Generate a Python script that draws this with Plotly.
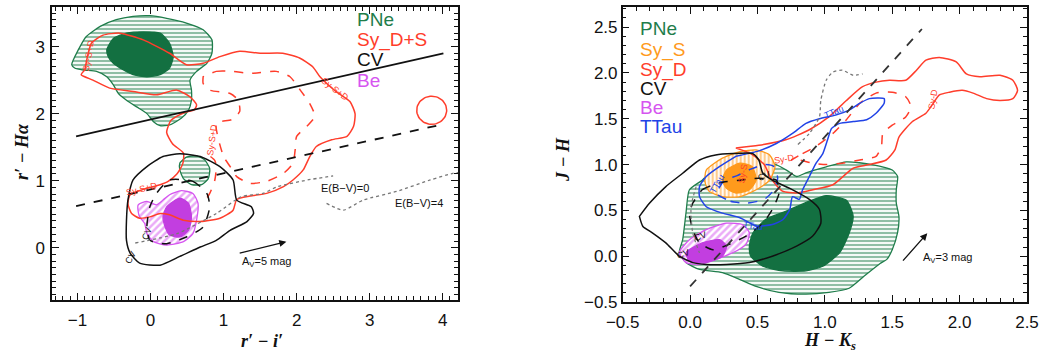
import math
import plotly.graph_objects as go

# ---------------- left panel: r' - Halpha vs r' - i' ----------------
L_PNE_OUT_X = [-1.08, -0.99, -0.88, -0.69, -0.47, -0.24, -0.01, 0.22, 0.49, 0.72, 0.84, 0.84, 0.77, 0.63, 0.54, 0.56, 0.56, 0.52, 0.42, 0.26, 0.13, 0.04, -0.05, -0.19, -0.33, -0.44, -0.51, -0.60, -0.74, -0.92, -1.04]
L_PNE_OUT_Y = [2.73, 2.95, 3.15, 3.30, 3.40, 3.45, 3.46, 3.42, 3.35, 3.25, 3.10, 2.90, 2.75, 2.63, 2.50, 2.35, 2.20, 2.05, 1.93, 1.83, 1.82, 1.88, 2.00, 2.10, 2.20, 2.30, 2.43, 2.55, 2.63, 2.65, 2.68]
L_PNE_IN_X = [-0.60, -0.51, -0.33, -0.10, 0.13, 0.26, 0.31, 0.26, 0.13, -0.05, -0.24, -0.37, -0.51, -0.58]
L_PNE_IN_Y = [2.95, 3.12, 3.20, 3.22, 3.20, 3.05, 2.85, 2.68, 2.58, 2.55, 2.58, 2.65, 2.75, 2.85]
L_PNE_SMALL_X = [0.40, 0.49, 0.63, 0.74, 0.81, 0.79, 0.70, 0.56, 0.45, 0.40]
L_PNE_SMALL_Y = [1.26, 1.35, 1.37, 1.31, 1.18, 1.03, 0.94, 0.94, 1.03, 1.16]

L_SY_OUT_X = [-0.90, -0.81, -0.65, -0.42, -0.10, 0.26, 0.49, 0.72, 0.95, 1.22, 1.50, 1.81, 2.04, 2.22, 2.32, 2.55, 2.73, 2.80, 2.78, 2.69, 2.48, 2.27, 2.18, 2.09, 1.95, 1.82, 1.59, 1.36, 1.18, 1.13, 0.95, 0.68, 0.45, 0.26, 0.13, -0.01, -0.15, -0.26, -0.31, -0.28, -0.10, 0.13, 0.24, 0.36, 0.44, 0.45, 0.30, 0.22, 0.28, 0.45, 0.60, 0.63, 0.54, 0.36, 0.08, -0.24, -0.56, -0.79, -0.95, -0.90]
L_SY_OUT_Y = [2.65, 3.05, 3.17, 3.20, 3.10, 2.90, 2.73, 2.75, 2.85, 2.93, 2.90, 2.90, 2.83, 2.70, 2.55, 2.32, 2.18, 2.00, 1.81, 1.66, 1.61, 1.51, 1.36, 1.16, 1.01, 0.91, 0.81, 0.77, 0.72, 0.56, 0.44, 0.39, 0.41, 0.49, 0.51, 0.46, 0.44, 0.51, 0.66, 0.79, 0.87, 0.94, 0.99, 1.10, 1.25, 1.41, 1.55, 1.72, 1.90, 2.01, 2.06, 2.13, 2.25, 2.35, 2.28, 2.33, 2.38, 2.50, 2.58, 2.65]
L_SY_IN_X = [0.72, 0.90, 1.13, 1.36, 1.72, 1.91, 2.05, 2.18, 2.25, 2.14, 2.00, 1.98, 1.95, 1.82, 1.59, 1.36, 1.18, 1.09, 1.00, 0.90, 1.11, 1.22, 1.20, 1.09, 0.81, 0.72, 0.72]
L_SY_IN_Y = [2.55, 2.63, 2.63, 2.60, 2.63, 2.55, 2.35, 2.15, 1.96, 1.81, 1.66, 1.46, 1.26, 1.11, 0.99, 0.96, 1.06, 1.21, 1.36, 1.86, 1.91, 2.03, 2.20, 2.30, 2.35, 2.45, 2.55]
L_SY_TAIL_X = [0.82, 0.88, 0.90, 0.88, 0.81, 0.72]
L_SY_TAIL_Y = [1.36, 1.30, 1.21, 1.01, 0.81, 0.66]
L_SY_RING_CX, L_SY_RING_CY, L_SY_RING_RX, L_SY_RING_RY = 3.85, 2.05, 0.205, 0.21

L_CV_OUT_X = [0.40, 0.68, 0.95, 1.13, 1.18, 1.38, 1.41, 1.32, 1.09, 0.90, 0.68, 0.40, 0.13, -0.15, -0.28, -0.33, -0.33, -0.31, -0.24, -0.05, 0.17]
L_CV_OUT_Y = [1.40, 1.36, 1.21, 1.01, 0.71, 0.61, 0.51, 0.39, 0.26, 0.11, 0.01, -0.13, -0.26, -0.23, -0.08, 0.11, 0.41, 0.71, 1.01, 1.21, 1.36]
L_CV_IN_X = [0.26, 0.58, 0.77, 0.81, 0.72, 0.49, 0.22, -0.01, -0.05, -0.01, 0.08]
L_CV_IN_Y = [1.01, 0.99, 0.81, 0.61, 0.31, 0.16, 0.06, 0.11, 0.31, 0.61, 0.81]

L_BE_OUT_X = [-0.17, -0.05, 0.08, 0.17, 0.26, 0.42, 0.58, 0.65, 0.63, 0.58, 0.45, 0.22, 0.04, -0.05, -0.08, -0.15, -0.17]
L_BE_OUT_Y = [0.64, 0.69, 0.64, 0.71, 0.79, 0.85, 0.81, 0.66, 0.41, 0.21, 0.09, 0.04, 0.09, 0.21, 0.36, 0.46, 0.54]
L_BE_IN_X = [0.22, 0.40, 0.52, 0.56, 0.52, 0.40, 0.26, 0.20, 0.17]
L_BE_IN_Y = [0.61, 0.74, 0.66, 0.46, 0.26, 0.16, 0.19, 0.31, 0.46]

L_SOLID_LINE_X = [-1.02, 4.01]
L_SOLID_LINE_Y = [1.66, 2.90]
L_DASH_LINE_X = [-1.02, 3.96]
L_DASH_LINE_Y = [0.62, 1.83]
L_EBV0_X = [-0.21, 0.36, 0.90, 1.24, 1.54, 1.74, 2.15, 2.50]
L_EBV0_Y = [0.07, 0.21, 0.51, 0.76, 0.81, 0.91, 1.01, 1.07]
L_EBV4_X = [2.41, 2.64, 2.91, 3.37, 3.83, 4.14, 4.24]
L_EBV4_Y = [0.66, 0.56, 0.71, 0.84, 1.01, 1.11, 1.12]
L_ARROW = [1.20, -0.085, 1.86, 0.09]
L_LEGEND = ["PNe", "Sy_D+S", "CV", "Be"]
L_LEGEND_Y = [3.40, 3.10, 2.80, 2.50]

# ---------------- right panel: J - H vs H - Ks ----------------
R_PNE_OUT_X = [-0.005, -0.03, -0.055, -0.08, -0.03, 0.07, 0.24, 0.37, 0.49, 0.66, 0.86, 1.03, 1.18, 1.29, 1.41, 1.46, 1.50, 1.54, 1.55, 1.53, 1.53, 1.54, 1.50, 1.35, 1.16, 1.01, 0.86, 0.79, 0.715, 0.61, 0.42, 0.29, 0.165, 0.09]
R_PNE_OUT_Y = [0.725, 0.475, 0.18, 0.04, -0.07, -0.145, -0.18, -0.255, -0.33, -0.395, -0.415, -0.395, -0.35, -0.22, -0.08, -0.035, 0.07, 0.26, 0.43, 0.58, 0.725, 0.87, 0.94, 1.00, 1.03, 0.975, 0.91, 0.87, 0.94, 1.02, 1.13, 1.07, 0.94, 0.83]
R_PNE_IN_X = [0.44, 0.465, 0.56, 0.71, 0.885, 1.01, 1.16, 1.21, 1.18, 1.11, 0.985, 0.86, 0.69, 0.54, 0.45]
R_PNE_IN_Y = [0.11, 0.25, 0.40, 0.49, 0.60, 0.66, 0.61, 0.435, 0.25, 0.04, -0.11, -0.16, -0.16, -0.11, 0.0]

R_SYS_OUT_X = [0.12, 0.24, 0.37, 0.49, 0.59, 0.63, 0.59, 0.49, 0.37, 0.24, 0.14, 0.11]
R_SYS_OUT_Y = [0.94, 1.07, 1.14, 1.16, 1.105, 0.98, 0.83, 0.725, 0.65, 0.65, 0.71, 0.815]
R_SYS_IN_X = [0.27, 0.37, 0.46, 0.49, 0.44, 0.34, 0.27, 0.24]
R_SYS_IN_Y = [0.94, 1.015, 0.98, 0.83, 0.725, 0.69, 0.74, 0.83]

R_BE_OUT_X = [-0.08, -0.005, 0.12, 0.27, 0.39, 0.44, 0.415, 0.32, 0.19, 0.07, -0.03]
R_BE_OUT_Y = [0.04, 0.18, 0.29, 0.36, 0.345, 0.255, 0.13, 0.04, -0.035, -0.09, -0.07]
R_BE_IN_X = [-0.03, 0.09, 0.22, 0.27, 0.24, 0.12, -0.005]
R_BE_IN_Y = [0.04, 0.145, 0.18, 0.11, 0.0, -0.07, -0.055]

R_SYD_OUT_X = [0.34, 0.51, 0.71, 0.885, 1.03, 1.16, 1.28, 1.38, 1.48, 1.60, 1.68, 1.75, 1.85, 1.975, 2.05, 2.15, 2.30, 2.395, 2.43, 2.395, 2.30, 2.20, 2.10, 2.02, 1.925, 1.85, 1.80, 1.75, 1.65, 1.55, 1.52, 1.455, 1.33, 1.21, 1.06, 0.91, 0.79, 0.685, 0.60, 0.55, 0.45, 0.34]
R_SYD_OUT_Y = [1.18, 1.21, 1.27, 1.38, 1.52, 1.70, 1.85, 1.90, 1.92, 1.92, 2.03, 2.14, 2.17, 2.12, 1.99, 1.96, 1.975, 1.92, 1.81, 1.72, 1.70, 1.72, 1.78, 1.81, 1.79, 1.76, 1.66, 1.56, 1.47, 1.30, 1.16, 1.05, 1.00, 0.96, 0.78, 0.725, 0.69, 0.71, 0.85, 1.00, 1.12, 1.18]
R_SYD_IN_X = [0.75, 0.835, 0.935, 1.06, 1.16, 1.26, 1.38, 1.50, 1.60, 1.64, 1.60, 1.50, 1.43, 1.42, 1.38, 1.26, 1.13, 1.01, 0.91, 0.81, 0.75]
R_SYD_IN_Y = [1.05, 1.12, 1.20, 1.34, 1.49, 1.67, 1.78, 1.79, 1.74, 1.63, 1.52, 1.43, 1.34, 1.20, 1.09, 1.05, 1.015, 1.00, 1.015, 1.05, 1.05]

R_TT_OUT_X = [0.34, 0.51, 0.64, 0.76, 0.86, 0.96, 1.08, 1.18, 1.26, 1.33, 1.44, 1.44, 1.38, 1.31, 1.21, 1.11, 1.05, 1.02, 0.985, 0.935, 0.885, 0.835, 0.81, 0.76, 0.74, 0.69, 0.61, 0.49, 0.37, 0.24, 0.12, 0.07, 0.07, 0.12, 0.22, 0.34]
R_TT_OUT_Y = [1.09, 1.15, 1.23, 1.34, 1.45, 1.50, 1.54, 1.595, 1.67, 1.72, 1.72, 1.67, 1.56, 1.49, 1.47, 1.45, 1.395, 1.27, 1.12, 1.015, 0.87, 0.725, 0.62, 0.65, 0.51, 0.40, 0.345, 0.33, 0.42, 0.47, 0.54, 0.65, 0.76, 0.87, 0.98, 1.09]
R_TT_IN_X = [0.19, 0.30, 0.42, 0.55, 0.62, 0.65, 0.62, 0.55, 0.45, 0.35, 0.25, 0.19]
R_TT_IN_Y = [0.68, 0.60, 0.58, 0.62, 0.72, 0.85, 0.98, 1.00, 0.95, 0.88, 0.82, 0.68]

R_CV_OUT_X = [-0.376, -0.30, -0.18, -0.055, 0.07, 0.19, 0.32, 0.465, 0.51, 0.54, 0.61, 0.74, 0.885, 0.96, 0.97, 0.91, 0.79, 0.61, 0.44, 0.27, 0.12, 0.02, -0.08, -0.18, -0.28, -0.35, -0.376]
R_CV_OUT_Y = [0.435, 0.58, 0.76, 0.905, 1.05, 1.105, 1.12, 1.12, 1.05, 0.905, 0.83, 0.74, 0.62, 0.51, 0.36, 0.22, 0.11, 0.0, -0.07, -0.09, -0.09, -0.07, 0.0, 0.145, 0.255, 0.325, 0.435]
R_CV_IN_X = [0.02, 0.09, 0.22, 0.37, 0.51, 0.64, 0.66, 0.61, 0.54, 0.415, 0.29, 0.17, 0.07, 0.02, -0.005, 0.02]
R_CV_IN_Y = [0.58, 0.725, 0.80, 0.83, 0.85, 0.83, 0.69, 0.51, 0.36, 0.22, 0.13, 0.07, 0.145, 0.29, 0.47, 0.58]

R_DASH_LINE_X = [0.0, 1.72]
R_DASH_LINE_Y = [-0.33, 2.48]
R_DOT_TOP_X = [0.80, 0.885, 0.96, 0.97, 1.01, 1.06, 1.13, 1.21, 1.28]
R_DOT_TOP_Y = [1.22, 1.34, 1.52, 1.70, 1.92, 2.01, 2.03, 1.975, 1.99]
R_DOT_LOW_X = [0.045, 0.007, 0.02, 0.07]
R_DOT_LOW_Y = [0.76, 0.54, 0.25, 0.036]
R_ARROW = [1.57, -0.065, 1.76, 0.25]
R_LEGEND = ["PNe", "Sy_S", "Sy_D", "CV", "Be", "TTau"]
R_LEGEND_Y = [2.48, 2.255, 2.03, 1.83, 1.62, 1.42]

# ---------------- colours ----------------
GREEN = "#1f7d4b"
GREEN_SOLID = "#137041"
RED = "#ff3d2b"
ORANGE = "#ff9a1c"
MAGENTA = "#d655f0"
MAGENTA_SOLID = "#c23ee0"
BLUE = "#2143e6"
BLACK = "#111111"

fig = go.Figure()


def closed(xs, ys):
    return list(xs) + [xs[0]], list(ys) + [ys[0]]


def region(xs, ys, axes, color, shape=None, solid=False, size=4, solidity=0.5):
    x, y = closed(xs, ys)
    kw = dict(x=x, y=y, mode="lines", fill="toself", hoverinfo="skip",
              line=dict(color=color, width=1.3, shape="spline", smoothing=0.6), showlegend=False,
              xaxis=axes[0], yaxis=axes[1])
    if solid:
        kw["fillcolor"] = color
    else:
        kw["fillcolor"] = "white"
        kw["fillpattern"] = dict(shape=shape, fgcolor=color, bgcolor="white",
                                 size=size, solidity=solidity)
    fig.add_trace(go.Scatter(**kw))


def curve(xs, ys, axes, color, dash="solid", width=1.5, close=False):
    x, y = (closed(xs, ys) if close else (list(xs), list(ys)))
    fig.add_trace(go.Scatter(x=x, y=y, mode="lines", hoverinfo="skip",
                             line=dict(color=color, width=width, dash=dash, shape="spline", smoothing=0.6),
                             showlegend=False, xaxis=axes[0], yaxis=axes[1]))


def ring(cx, cy, rx, ry, axes, color):
    n = 60
    xs = [cx + rx * math.cos(2 * math.pi * i / n) for i in range(n + 1)]
    ys = [cy + ry * math.sin(2 * math.pi * i / n) for i in range(n + 1)]
    fig.add_trace(go.Scatter(x=xs, y=ys, mode="lines", hoverinfo="skip",
                             line=dict(color=color, width=1.5), showlegend=False,
                             xaxis=axes[0], yaxis=axes[1]))


LA = ("x", "y")
RA = ("x2", "y2")

# left panel filled regions
region(L_PNE_OUT_X, L_PNE_OUT_Y, LA, GREEN, shape="-", size=4, solidity=0.55)
region(L_PNE_IN_X, L_PNE_IN_Y, LA, GREEN_SOLID, solid=True)
region(L_PNE_SMALL_X, L_PNE_SMALL_Y, LA, GREEN, shape="-", size=4, solidity=0.55)
region(L_BE_OUT_X, L_BE_OUT_Y, LA, MAGENTA, shape="/", size=5, solidity=0.5)
region(L_BE_IN_X, L_BE_IN_Y, LA, MAGENTA_SOLID, solid=True)

# left panel lines
curve(L_SY_OUT_X, L_SY_OUT_Y, LA, RED, close=True)
curve(L_SY_IN_X, L_SY_IN_Y, LA, RED, dash="dash", close=True)
curve(L_SY_TAIL_X, L_SY_TAIL_Y, LA, RED, dash="dash")
ring(L_SY_RING_CX, L_SY_RING_CY, L_SY_RING_RX, L_SY_RING_RY, LA, RED)
curve(L_CV_OUT_X, L_CV_OUT_Y, LA, BLACK, close=True)
curve(L_CV_IN_X, L_CV_IN_Y, LA, BLACK, dash="dash", close=True)
curve(L_SOLID_LINE_X, L_SOLID_LINE_Y, LA, BLACK, width=1.8)
curve(L_DASH_LINE_X, L_DASH_LINE_Y, LA, BLACK, dash="dash", width=1.8)
curve(L_EBV0_X, L_EBV0_Y, LA, "#777777", dash="dot", width=1.3)
curve(L_EBV4_X, L_EBV4_Y, LA, "#777777", dash="dot", width=1.3)

# right panel filled regions
region(R_PNE_OUT_X, R_PNE_OUT_Y, RA, GREEN, shape="-", size=4, solidity=0.55)
region(R_PNE_IN_X, R_PNE_IN_Y, RA, GREEN_SOLID, solid=True)
region(R_SYS_OUT_X, R_SYS_OUT_Y, RA, ORANGE, shape="|", size=4, solidity=0.55)
region(R_SYS_IN_X, R_SYS_IN_Y, RA, ORANGE, solid=True)
region(R_BE_OUT_X, R_BE_OUT_Y, RA, MAGENTA, shape="/", size=5, solidity=0.5)
region(R_BE_IN_X, R_BE_IN_Y, RA, MAGENTA_SOLID, solid=True)

# right panel lines
curve(R_SYD_OUT_X, R_SYD_OUT_Y, RA, RED, close=True)
curve(R_SYD_IN_X, R_SYD_IN_Y, RA, RED, dash="dash", close=True)
curve(R_TT_OUT_X, R_TT_OUT_Y, RA, BLUE, close=True)
curve(R_TT_IN_X, R_TT_IN_Y, RA, BLUE, dash="dash", close=True)
curve(R_CV_OUT_X, R_CV_OUT_Y, RA, BLACK, close=True)
curve(R_CV_IN_X, R_CV_IN_Y, RA, BLACK, dash="dash", close=True)
curve(R_DASH_LINE_X, R_DASH_LINE_Y, RA, "#333333", dash="dash", width=1.8)
curve(R_DOT_TOP_X, R_DOT_TOP_Y, RA, "#777777", dash="dot", width=1.3)
curve(R_DOT_LOW_X, R_DOT_LOW_Y, RA, "#777777", dash="dot", width=1.2)

ann = []
LEG_FONT = "Liberation Sans, Arial, sans-serif"
for txt, yy, col in zip(L_LEGEND, L_LEGEND_Y, [GREEN, RED, BLACK, MAGENTA]):
    ann.append(dict(x=2.80, y=yy, xref="x", yref="y", text=txt, showarrow=False,
                    xanchor="left", yanchor="middle", font=dict(size=19, color=col, family=LEG_FONT)))
for txt, yy, col in zip(R_LEGEND, R_LEGEND_Y, [GREEN, ORANGE, RED, BLACK, MAGENTA, BLUE]):
    ann.append(dict(x=-0.39, y=yy, xref="x2", yref="y2", text=txt, showarrow=False,
                    xanchor="left", yanchor="middle", font=dict(size=19, color=col, family=LEG_FONT)))

# small contour labels
SMALL = "Liberation Sans, Arial, sans-serif"


def lab(x, y, text, color, axes, angle=0, size=9):
    ann.append(dict(x=x, y=y, xref=axes[0], yref=axes[1], text=text, showarrow=False,
                    textangle=angle, xanchor="center", yanchor="middle",
                    font=dict(size=size, color=color, family=SMALL)))


lab(-0.85, 2.86, "Sy-S+D", RED, LA, angle=-80)
lab(2.52, 2.36, "Sy-S+D", RED, LA, angle=38)
lab(0.84, 1.61, "Sy-S+D", RED, LA, angle=-82)
lab(-0.12, 0.87, "Sy-S+D", RED, LA, angle=-14)
lab(-0.27, -0.14, "CV", BLACK, LA, angle=-60)
lab(-0.05, 0.22, "CV", BLACK, LA, angle=-70)
lab(2.66, 0.885, "E(B−V)=0", BLACK, LA, size=11)
lab(3.68, 0.66, "E(B−V)=4", BLACK, LA, size=11)

lab(1.80, 1.72, "Sy-D", RED, RA, angle=-80)
lab(0.70, 1.06, "Sy-D", RED, RA, angle=-10)
lab(0.39, 0.90, "Sy-S", RED, RA, angle=-80)
lab(1.07, 1.57, "TTau", BLUE, RA, angle=-22)
lab(0.47, 0.33, "TTau", BLUE, RA, angle=8)
lab(0.20, 0.79, "TTau", BLUE, RA, angle=-60)
lab(-0.05, 0.02, "CV", BLACK, RA, angle=-20)
lab(0.08, 0.22, "CV", BLACK, RA, angle=-20)
lab(0.55, 0.87, "CV", BLACK, RA, angle=-20)

# reddening arrows
for arr, axes, label, tx, ty in [(L_ARROW, LA, "A<sub>V</sub>=5 mag", 1.22, -0.21),
                                 (R_ARROW, RA, "A<sub>V</sub>=3 mag", 1.71, -0.02)]:
    ann.append(dict(x=arr[2], y=arr[3], ax=arr[0], ay=arr[1], xref=axes[0], yref=axes[1],
                    axref=axes[0], ayref=axes[1], showarrow=True, arrowhead=2,
                    arrowsize=1.1, arrowwidth=1.3, arrowcolor=BLACK, text=""))
    ann.append(dict(x=tx, y=ty, xref=axes[0], yref=axes[1], text=label, showarrow=False,
                    xanchor="left", yanchor="middle", font=dict(size=11, color=BLACK, family=SMALL)))

# axis titles
TITLE_FONT = dict(family="Liberation Serif, Times New Roman, serif", size=18, color=BLACK,
                  weight="bold", style="italic")
for x_px, y_px, text, angle in [(22, 152, "r′ − Hα", -90), (262, 341, "r′ − i′", 0),
                                (563, 160, "J − H", -90), (830, 341, "H − K<sub>s</sub>", 0)]:
    ann.append(dict(x=x_px / 1054, y=1 - y_px / 352, xref="paper", yref="paper", text=text,
                    textangle=angle, xanchor="center", yanchor="middle", showarrow=False,
                    font=TITLE_FONT))

TICK_FONT = dict(family="Liberation Sans, Arial, sans-serif", size=17, color=BLACK)
common = dict(showgrid=False, zeroline=False, showline=True, linecolor=BLACK, linewidth=1.5,
              mirror="allticks", ticks="inside", ticklen=7, tickwidth=1.2, tickcolor=BLACK,
              tickfont=TICK_FONT, automargin=False)
minor = dict(ticks="inside", ticklen=4, tickwidth=1.1, tickcolor=BLACK, dtick=0.1, tick0=0,
             showgrid=False)

fig.update_layout(
    width=1054, height=352, margin=dict(l=0, r=0, t=0, b=0, autoexpand=False),
    paper_bgcolor="white", plot_bgcolor="white", showlegend=False,
    xaxis=dict(domain=[52 / 1054, 458 / 1054], range=[-1.35, 4.21], dtick=1, tick0=0,
               minor=minor, ticklabelstandoff=4, **common),
    yaxis=dict(domain=[1 - 300 / 352, 1 - 7 / 352], range=[-0.78, 3.59], dtick=1, tick0=0,
               minor=minor, ticklabelstandoff=2, **common),
    xaxis2=dict(domain=[622.7 / 1054, 1027 / 1054], range=[-0.5, 2.5], dtick=0.5, tick0=0,
                minor=minor, anchor="y2", tickformat=".1f", ticklabelstandoff=4, **common),
    yaxis2=dict(domain=[1 - 302 / 352, 1 - 7 / 352], range=[-0.5, 2.72], dtick=0.5, tick0=0,
                minor=minor, anchor="x2", tickformat=".1f", ticklabelstandoff=0, **common),
    annotations=ann,
)

fig.write_html("out.html")
